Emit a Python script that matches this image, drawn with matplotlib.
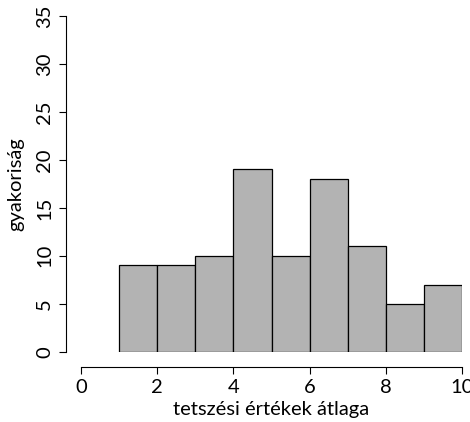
import numpy as np
import matplotlib.pyplot as plt

plt.rcParams['font.family'] = ['Lato', 'DejaVu Sans']

bin_edges = [1, 2, 3, 4, 5, 6, 7, 8, 9, 10]
counts = [9, 9, 10, 19, 10, 18, 11, 5, 7]
x_ticks = [0, 2, 4, 6, 8, 10]
y_ticks = [0, 5, 10, 15, 20, 25, 30, 35]

fig = plt.figure(figsize=(4.7, 4.22), dpi=100)
ax = fig.add_axes([81 / 470, (422 - 351.7) / 422, 381 / 470, 335.7 / 422])

left = np.array(bin_edges[:-1])
widths = np.diff(bin_edges)
ax.bar(left, counts, width=widths, align='edge', color='#B3B3B3',
       edgecolor='black', linewidth=0.9)

ax.set_xlim(0, 10)
ax.set_ylim(0, 35)
ax.set_xticks(x_ticks)
ax.set_yticks(y_ticks)

for s in ['top', 'right']:
    ax.spines[s].set_visible(False)
ax.spines['left'].set_position(('outward', 11))
ax.spines['bottom'].set_position(('outward', 11))
ax.spines['left'].set_linewidth(0.8)
ax.spines['bottom'].set_linewidth(0.8)
ax.tick_params(length=5, width=0.8, labelsize=14.5, pad=4)
ax.tick_params(axis='y', labelrotation=90)
for lab in ax.get_yticklabels():
    lab.set_va('center')

ax.set_xlabel('tetszési értékek átlaga', fontsize=14.5, va='center')
ax.set_ylabel('gyakoriság', fontsize=14.5, va='center')
ax.xaxis.set_label_coords(0.5, (351.7 - 409) / 335.7)
ax.yaxis.set_label_coords((16 - 81) / 381, 0.5)

fig.savefig('out.png', dpi=100)
